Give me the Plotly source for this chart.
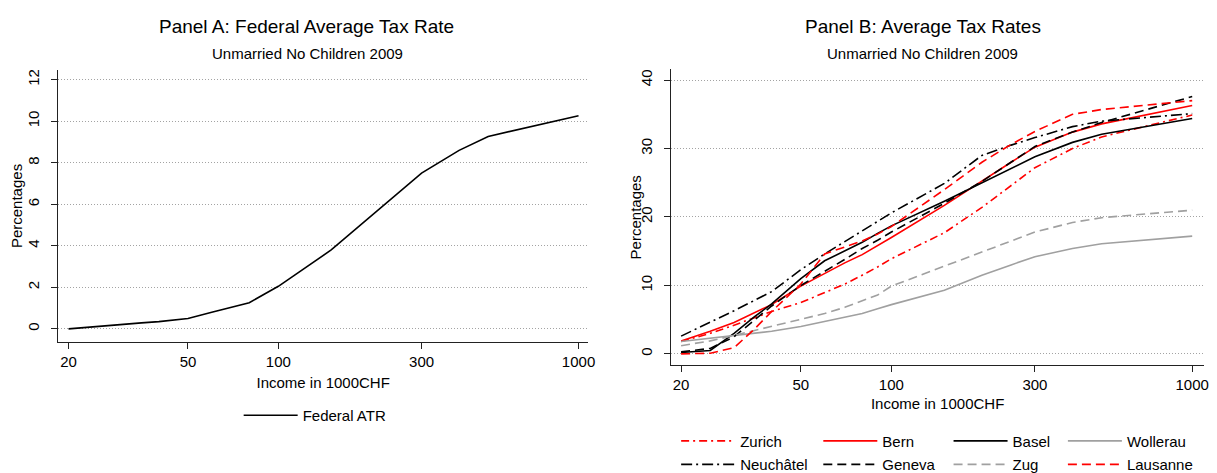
import plotly.graph_objects as go

# ---------------- data ----------------
income = [20, 25, 30, 35, 40, 50, 60, 70, 80, 90, 100, 150, 200, 250, 300, 400, 500, 1000]

federal_atr = [0.0, 0.13, 0.22, 0.29, 0.35, 0.5, 0.8, 1.04, 1.26, 1.68, 2.05, 3.8, 5.35, 6.55, 7.5, 8.6, 9.27, 10.27]

zurich    = [1.8, 3.0, 4.2, 5.3, 6.2, 7.5, 8.9, 10.2, 11.5, 12.7, 13.9, 17.7, 21.4, 24.6, 27.2, 30.0, 31.7, 34.9]
bern      = [1.9, 3.3, 4.6, 6.0, 7.2, 9.9, 11.8, 13.3, 14.5, 15.8, 17.0, 21.7, 25.3, 28.0, 30.2, 32.4, 33.6, 36.3]
basel     = [0.2, 0.5, 3.0, 5.4, 7.3, 11.0, 13.6, 15.1, 16.3, 17.6, 18.7, 22.3, 25.0, 27.1, 28.8, 30.9, 32.1, 34.4]
wollerau  = [1.8, 2.3, 2.7, 3.0, 3.3, 4.0, 4.7, 5.3, 5.9, 6.6, 7.2, 9.3, 11.5, 13.0, 14.2, 15.4, 16.1, 17.2]
neuchatel = [2.6, 4.6, 6.3, 7.8, 9.1, 12.3, 14.6, 16.4, 18.0, 19.3, 20.6, 24.9, 29.0, 30.5, 31.6, 33.2, 34.0, 35.1]
geneva    = [0.3, 0.8, 2.5, 4.9, 7.0, 10.0, 12.0, 13.8, 15.4, 16.6, 17.8, 22.0, 25.2, 28.0, 30.3, 32.4, 33.8, 37.6]
zug       = [1.2, 1.9, 2.7, 3.4, 4.0, 5.0, 5.9, 6.8, 7.8, 8.6, 9.9, 12.8, 14.9, 16.5, 17.8, 19.2, 19.9, 21.0]
lausanne  = [0.0, 0.1, 0.9, 3.6, 6.2, 10.2, 14.6, 15.6, 16.5, 17.5, 18.6, 24.0, 28.0, 30.6, 32.5, 35.0, 35.7, 37.0]

x_tick_vals = [20, 50, 100, 300, 1000]
x_tick_text = ["20", "50", "100", "300", "1000"]
ya_tick_vals = [0, 2, 4, 6, 8, 10, 12]
yb_tick_vals = [0, 10, 20, 30, 40]

# ---------------- styling helpers ----------------
W, H = 1217, 473
FONT = "Liberation Sans, Arial, Helvetica, sans-serif"
RED = "#ff0000"
GRAY = "#a0a0a0"
BLACK = "#000000"
DASH = "9px,5px"
DASHDOT = "8px,4px,2px,4px"
LONGDASHDOT = "11px,4px,2px,4px"
LW = 1.6


def fx(p):
    return p / W


def fy(p):
    return 1 - p / H


fig = go.Figure()

# Panel A
fig.add_trace(go.Scatter(x=income, y=federal_atr, mode="lines", name="Federal ATR",
                         line=dict(color=BLACK, width=LW), xaxis="x", yaxis="y",
                         legend="legend"))

# Panel B (plot order as in original)
series_b = [
    ("Zurich", zurich, RED, DASHDOT, "legend2"),
    ("Bern", bern, RED, "solid", "legend3"),
    ("Basel", basel, BLACK, "solid", "legend4"),
    ("Wollerau", wollerau, GRAY, "solid", "legend5"),
    ("Neuchâtel", neuchatel, BLACK, LONGDASHDOT, "legend2"),
    ("Geneva", geneva, BLACK, DASH, "legend3"),
    ("Zug", zug, GRAY, DASH, "legend4"),
    ("Lausanne", lausanne, RED, DASH, "legend5"),
]
for name, vals, col, dash, leg in series_b:
    fig.add_trace(go.Scatter(x=income, y=vals, mode="lines", name=name,
                             line=dict(color=col, width=LW, dash=dash),
                             xaxis="x2", yaxis="y2", legend=leg, legendgroup=name))

axis_common = dict(showline=True, linecolor="#222222", linewidth=1.2,
                   ticks="outside", ticklen=6, tickcolor="#222222", tickwidth=1.2,
                   zeroline=False, tickfont=dict(size=15, color="black", family=FONT),
                   title_font=dict(size=15, color="black", family=FONT))

xcommon = dict(axis_common, type="log", tickvals=x_tick_vals, ticktext=x_tick_text,
               showgrid=False, title_text="Income in 1000CHF")
ycommon = dict(axis_common, showgrid=True, gridcolor="#a3a3a3", griddash="1px,2px",
               gridwidth=1, tickangle=-90, ticklabelstandoff=6)

legend_common = dict(xanchor="left", yanchor="top", orientation="v",
                     bgcolor="rgba(0,0,0,0)", borderwidth=0,
                     font=dict(size=15, color="black", family=FONT),
                     itemwidth=54, tracegroupgap=1)

fig.update_layout(
    width=W, height=H,
    margin=dict(l=0, r=0, t=0, b=0),
    paper_bgcolor="white", plot_bgcolor="white",
    font=dict(family=FONT, color="black"),
    xaxis=dict(xcommon, domain=[fx(50.5), fx(583.5)], range=[1.2667, 3.032], anchor="y",
               title_standoff=8),
    yaxis=dict(ycommon, domain=[fy(337), fy(62)], range=[-0.62, 12.46], anchor="x",
               tickvals=ya_tick_vals, title_text="Percentages", title_standoff=2),
    xaxis2=dict(xcommon, domain=[fx(667), fx(1203)], range=[1.268, 3.0395], anchor="y2",
                title_standoff=6),
    yaxis2=dict(ycommon, domain=[fy(360.7), fy(60.7)], range=[-1.64, 41.63], anchor="x2",
                tickvals=yb_tick_vals),
    legend=dict(legend_common, x=fx(232), y=fy(395)),
    legend2=dict(legend_common, x=fx(672), y=fy(421)),
    legend3=dict(legend_common, x=fx(815), y=fy(421)),
    legend4=dict(legend_common, x=fx(946), y=fy(421)),
    legend5=dict(legend_common, x=fx(1061), y=fy(421)),
    showlegend=True,
    annotations=[
        dict(text="Panel A: Federal Average Tax Rate", x=fx(300), y=fy(18), xref="paper", yref="paper",
             showarrow=False, xanchor="center", yanchor="middle", font=dict(size=19, family=FONT, color="black")),
        dict(text="Unmarried No Children 2009", x=fx(301), y=fy(45), xref="paper", yref="paper",
             showarrow=False, xanchor="center", yanchor="middle", font=dict(size=15, family=FONT, color="black")),
        dict(text="Panel B: Average Tax Rates", x=fx(920), y=fy(18), xref="paper", yref="paper",
             showarrow=False, xanchor="center", yanchor="middle", font=dict(size=19, family=FONT, color="black")),
        dict(text="Unmarried No Children 2009", x=fx(920), y=fy(45), xref="paper", yref="paper",
             showarrow=False, xanchor="center", yanchor="middle", font=dict(size=15, family=FONT, color="black")),
        dict(text="Percentages", textangle=-90, x=fx(631), y=fy(210.7), xref="paper", yref="paper",
             showarrow=False, xanchor="center", yanchor="middle", font=dict(size=15, family=FONT, color="black")),
    ],
)

fig.write_html("out.html")
